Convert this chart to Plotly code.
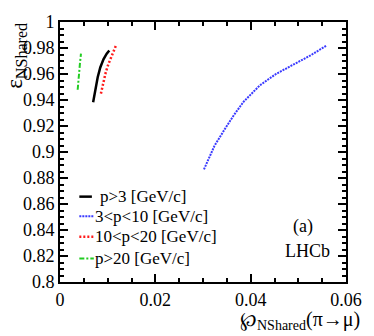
import plotly.graph_objects as go

# ---- data ----
x_p3 = [0.00695, 0.00744, 0.00791, 0.00845, 0.00912, 0.00980, 0.01034]
y_p3 = [0.9383, 0.9487, 0.9575, 0.9650, 0.9713, 0.9756, 0.9781]

x_p3_10 = [0.0302, 0.0324, 0.0345, 0.0365, 0.0385, 0.0419, 0.0453, 0.0493, 0.0527, 0.0559]
y_p3_10 = [0.8866, 0.9047, 0.9172, 0.9285, 0.9386, 0.9512, 0.9600, 0.9680, 0.9746, 0.9819]

x_p10_20 = [0.00858, 0.00912, 0.00960, 0.01014, 0.01081, 0.01182]
y_p10_20 = [0.9449, 0.9538, 0.9613, 0.9675, 0.9738, 0.9826]

x_p20 = [0.00371, 0.00392, 0.00420, 0.00440]
y_p20 = [0.9479, 0.9600, 0.9688, 0.9756]

series_names = ["p>3 [GeV/c]", "3<p<10 [GeV/c]", "10<p<20 [GeV/c]", "p>20 [GeV/c]"]

x_tick_vals = [0, 0.02, 0.04, 0.06]
x_tick_labels = ["0", "0.02", "0.04", "0.06"]
y_tick_vals = [0.8, 0.82, 0.84, 0.86, 0.88, 0.9, 0.92, 0.94, 0.96, 0.98, 1.0]
y_tick_labels = ["0.8", "0.82", "0.84", "0.86", "0.88", "0.9", "0.92", "0.94", "0.96", "0.98", "1"]

# ---- styles ----
FONT = "Liberation Serif"
styles = [
    dict(color="black", width=2.5, dash="solid"),
    dict(color="#3a3aff", width=2, dash="2px,1px"),
    dict(color="#ff1a1a", width=2.5, dash="2px,2px"),
    dict(color="#22cc22", width=2, dash="5px,2px,2px,2px"),
]
xs = [x_p3, x_p3_10, x_p10_20, x_p20]
ys = [y_p3, y_p3_10, y_p10_20, y_p20]

fig = go.Figure()
for name, x, y, st in zip(series_names, xs, ys, styles):
    fig.add_trace(go.Scatter(x=x, y=y, mode="lines", name=name, line=st, showlegend=False,
                             hoverinfo="skip"))

L, R, T, B = 60, 18, 17, 54
W, H = 374, 336
pw, ph = W - L - R, H - T - B

def px(xp):
    return (xp - L) / pw

def py(yp):
    return 1 - (yp - T) / ph

axis_common = dict(
    showline=True, linecolor="black", linewidth=2, mirror="ticks",
    ticks="inside", ticklen=8, tickwidth=1.5, tickcolor="black",
    showgrid=False, zeroline=False, ticklabelstandoff=0,
    tickfont=dict(family=FONT, size=18, color="black"),
)

fig.update_xaxes(range=[0, 0.06], tickvals=x_tick_vals, ticktext=x_tick_labels,
                 minor=dict(ticks="inside", dtick=0.005, tick0=0, ticklen=4, tickwidth=1.5, tickcolor="black"),
                 **axis_common)
fig.update_yaxes(range=[0.8, 1.0], tickvals=y_tick_vals, ticktext=y_tick_labels,
                 minor=dict(ticks="inside", dtick=0.005, tick0=0.8, ticklen=4, tickwidth=1.5, tickcolor="black"),
                 **axis_common)

annotations = []
shapes = []
# manual legend
leg_y = [195, 215, 236, 258]
leg_text_x = [99, 94, 94, 94]
leg_line = [(80, 93), (80, 95), (80, 95), (80, 95)]
for name, st, yy, tx, (x0, x1) in zip(series_names, styles, leg_y, leg_text_x, leg_line):
    shapes.append(dict(type="line", xref="paper", yref="paper",
                       x0=px(x0), x1=px(x1), y0=py(yy), y1=py(yy),
                       line=dict(color=st["color"], width=st["width"], dash=st["dash"])))
    annotations.append(dict(text=name, xref="paper", yref="paper", x=px(tx), y=py(yy),
                            xanchor="left", yanchor="middle", showarrow=False,
                            font=dict(family=FONT, size=17, color="black")))

annotations.append(dict(text="(a)", xref="paper", yref="paper", x=px(312), y=py(225),
                        xanchor="center", yanchor="middle", showarrow=False,
                        font=dict(family=FONT, size=18, color="black")))
annotations.append(dict(text="LHCb", xref="paper", yref="paper", x=px(341), y=py(250),
                        xanchor="right", yanchor="middle", showarrow=False,
                        font=dict(family=FONT, size=18, color="black")))
# axis titles
annotations.append(dict(text="℘<sub>NShared</sub>(π→μ)", xref="paper", yref="paper",
                        x=px(373), y=py(336), xanchor="right", yanchor="bottom", showarrow=False,
                        font=dict(family=FONT, size=20, color="black")))
annotations.append(dict(text="ε<sub>NShared</sub>", xref="paper", yref="paper",
                        x=px(15), y=py(52), xanchor="center", yanchor="middle", showarrow=False,
                        textangle=-90, font=dict(family=FONT, size=23, color="black")))

fig.update_layout(
    width=W, height=H,
    margin=dict(l=L, r=R, t=T, b=B),
    paper_bgcolor="white", plot_bgcolor="white",
    shapes=shapes, annotations=annotations,
    showlegend=False,
)

fig.write_html("out.html", config={"displayModeBar": False},
               post_script="document.body.style.margin='0';")
